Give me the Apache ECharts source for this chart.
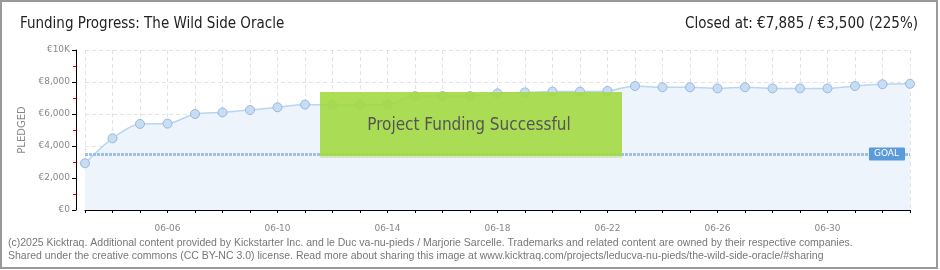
<!DOCTYPE html>
<html><head><meta charset="utf-8">
<script src="https://cdn.jsdelivr.net/npm/echarts@6/dist/echarts.min.js"></script>
<style>html,body{margin:0;padding:0;background:#fff}#c{width:940px;height:270px}</style>
</head><body><div id="c"></div>
<script>
const dates = ['06-03','06-04','06-05','06-06','06-07','06-08','06-09','06-10','06-11','06-12','06-13','06-14','06-15','06-16','06-17','06-18','06-19','06-20','06-21','06-22','06-23','06-24','06-25','06-26','06-27','06-28','06-29','06-30','07-01','07-02','07-03'];
const pledged = [2920,4480,5380,5400,6000,6100,6250,6420,6590,6560,6570,6590,7120,7120,7120,7290,7350,7400,7400,7440,7750,7670,7670,7600,7670,7600,7600,7600,7750,7860,7885];
const goal = 3500;
const yTicks = [0,2000,4000,6000,8000,10000];
const yTickLabels = ['€0','€2,000','€4,000','€6,000','€8,000','€10K'];
const titleText = 'Funding Progress: The Wild Side Oracle';
const closedText = 'Closed at: €7,885 / €3,500 (225%)';
const successText = 'Project Funding Successful';
const footerLines = [
 '(c)2025 Kicktraq. Additional content provided by Kickstarter Inc. and le Duc va-nu-pieds / Marjorie Sarcelle. Trademarks and related content are owned by their respective companies.',
 'Shared under the creative commons (CC BY-NC 3.0) license. Read more about sharing this image at www.kicktraq.com/projects/leducva-nu-pieds/the-wild-side-oracle/#sharing'
];

const FONT = "'DejaVu Sans Condensed','DejaVu Sans',sans-serif";
const chart = echarts.init(document.getElementById('c'), null, {renderer:'canvas'});
const option = {
  animation:false,
  grid:{left:85,right:30,top:50,bottom:60},
  xAxis:{
    type:'category', data:dates, boundaryGap:false, offset:10,
    axisLine:{lineStyle:{color:'#000',width:1}},
    axisTick:{interval:0,length:3,lineStyle:{color:'#000'}},
    axisLabel:{interval:(i)=>i%4===3, color:'#888', fontSize:9, margin:4, fontFamily:'DejaVu Sans'},
    splitLine:{show:true, interval:0, lineStyle:{color:'#e3e3e3', type:[4,3]}}
  },
  yAxis:{
    type:'value', min:0, max:10000, interval:2000, offset:9,
    axisLine:{show:true, lineStyle:{color:'#000'}},
    axisTick:{show:true, length:4, lineStyle:{color:'#000'}},
    minorTick:{show:true, splitNumber:2, length:3, lineStyle:{color:'#e00'}},
    axisLabel:{formatter:v=>yTickLabels[yTicks.indexOf(v)], color:'#888', fontSize:9, margin:6, fontFamily:'DejaVu Sans'},
    splitLine:{show:true, lineStyle:{color:'#e3e3e3', type:[4,3]}},
    name:'PLEDGED', nameLocation:'middle', nameGap:49,
    nameTextStyle:{color:'#888', fontSize:10, fontFamily:'DejaVu Sans'}
  },
  series:[{
    type:'line', data:pledged, smooth:0.3, symbol:'circle', symbolSize:9,
    itemStyle:{color:'#c6ddf6', borderColor:'#9cb7d8', borderWidth:1},
    lineStyle:{color:'#b9d5f2', width:1.5},
    areaStyle:{color:'#edf4fc', opacity:1},
    markLine:{
      silent:true, symbol:['none','none'],
      data:[{yAxis:goal}],
      lineStyle:{color:'#9cc0e8', type:[3,1], width:3},
      label:{show:true, position:'insideEnd', formatter:'GOAL', color:'#fff', backgroundColor:'#5b9bdc',
        padding:[2,6,2,5], fontSize:9, fontFamily:'DejaVu Sans', distance:5, borderRadius:1}
    }
  }],
  graphic:[
    {type:'rect', z:100, shape:{x:320,y:92,width:302,height:66}, style:{fill:'rgba(163,217,66,0.9)'}},
    {type:'rect', z:100, shape:{x:320,y:156,width:302,height:2}, style:{fill:'#d5e6c0'}},
    {type:'text', z:101, x:469, y:126, style:{text:successText, font:"17px "+FONT, fill:'#555', textAlign:'center', textVerticalAlign:'middle', textShadowColor:'#fff', textShadowOffsetX:1, textShadowOffsetY:1, textShadowBlur:0}},
    {type:'text', z:101, x:20, y:24, style:{text:titleText, font:"15px "+FONT, fill:'#222', textVerticalAlign:'middle'}},
    {type:'text', z:101, x:918, y:24, style:{text:closedText, font:"15px "+FONT, fill:'#222', textAlign:'right', textVerticalAlign:'middle'}},
    {type:'text', z:101, x:8, y:243, style:{text:footerLines[0], font:"10.5px 'Liberation Sans',sans-serif", fill:'#777', textVerticalAlign:'middle'}},
    {type:'text', z:101, x:8, y:256, style:{text:footerLines[1], font:"10.5px 'Liberation Sans',sans-serif", fill:'#777', textVerticalAlign:'middle'}},
    {type:'rect', z:102, shape:{x:1,y:1,width:936,height:267}, style:{fill:'none', stroke:'#999', lineWidth:2}}
  ]
};
chart.setOption(option);
</script>
</body></html>
